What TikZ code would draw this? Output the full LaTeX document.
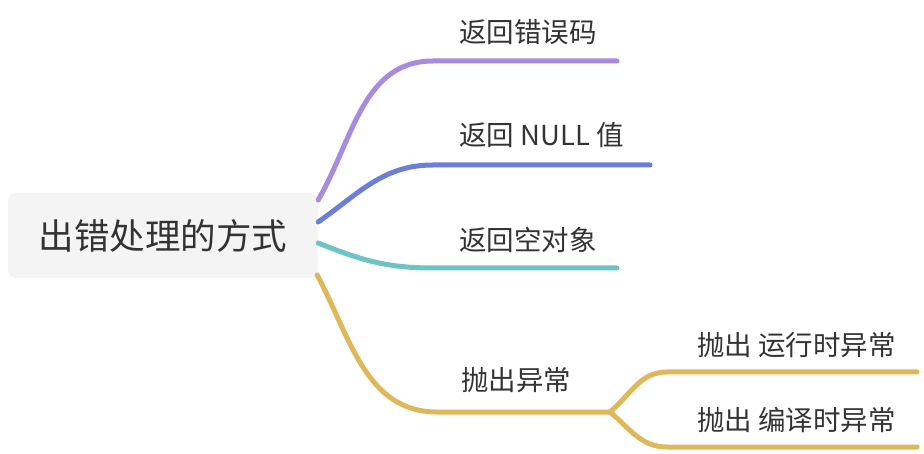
\documentclass[tikz,border=0pt]{standalone}
\usepackage{fontspec}
\newfontfamily\cjk{Noto Sans CJK SC}
\usetikzlibrary{calc}
\definecolor{txtgray}{HTML}{333333}
\definecolor{rootfill}{HTML}{F4F4F4}
\definecolor{brpurple}{HTML}{A68BDE}
\definecolor{brblue}{HTML}{6C7ED8}
\definecolor{brteal}{HTML}{6EC4C4}
\definecolor{brgold}{HTML}{DEB85A}

\begin{document}
\begin{tikzpicture}[x=1pt, y=-1pt,
	every node/.style={text=txtgray, inner sep=0pt},
	leaf/.style={anchor=west, font=\cjk\fontsize{27.5}{27.5}\selectfont},
	branch/.style={line width=5pt, line cap=round}]
	\useasboundingbox (0,0) rectangle (924,454);
	% root
	\node[fill=rootfill, rounded corners=8pt, minimum width=310pt, minimum height=85pt,
		font=\cjk\fontsize{35.5}{35.5}\selectfont] (root) at (163,235.5) {出错处理的方式};
	% labels
	\node[leaf] (err)  at (459,32)  {返回错误码};
	\node[leaf] (null) at (459,135) {返回 NULL 值};
	\node[leaf] (obj)  at (459,240) {返回空对象};
	\node[leaf] (exc)  at (461,380) {抛出异常};
	\node[leaf] (run)  at (697,345) {抛出 运行时异常};
	\node[leaf] (comp) at (697,420) {抛出 编译时异常};
	% line ends
	\coordinate (errA) at (433,61);   \coordinate (errB) at (617,61);
	\coordinate (nullA) at (433,165); \coordinate (nullB) at (650,165);
	\coordinate (objA) at (433,268);  \coordinate (objB) at (617,268);
	\coordinate (excA) at (437,412);  \coordinate (fork) at (610,412);
	\coordinate (runA) at (667,372);  \coordinate (runB) at (917,372);
	\coordinate (compA) at (667,447); \coordinate (compB) at (917,447);
	% branches
	\draw[branch, brpurple] ($(root.east)+(0,-35.5)$) to[out=60, in=180] (errA) -- (errB);
	\draw[branch, brblue] ($(root.east)+(0,-13.5)$) to[out=35, in=180] (nullA) -- (nullB);
	\draw[branch, brteal] ($(root.east)+(0,7.5)$) to[out=-22, in=180] (objA) -- (objB);
	\draw[branch, brgold] ($(root.east)+(-1,39.5)$) to[out=-62, in=180] (excA) -- (fork);
	\draw[branch, brgold] (fork) to[out=40, in=180] (runA) -- (runB);
	\draw[branch, brgold] (fork) to[out=-40, in=180] (compA) -- (compB);
\end{tikzpicture}
\end{document}
